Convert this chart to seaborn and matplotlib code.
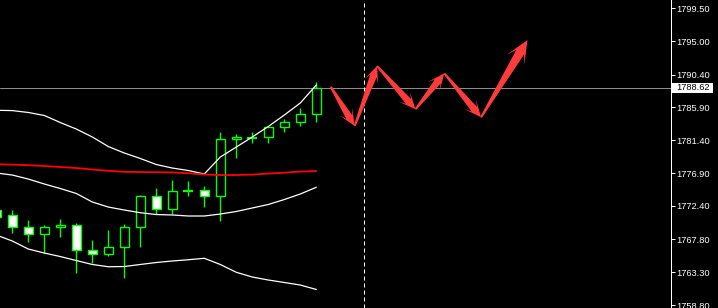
import numpy as np
import matplotlib
matplotlib.use("Agg")
import matplotlib.pyplot as plt
import seaborn as sns
from matplotlib.patches import Polygon, Rectangle
from matplotlib.transforms import IdentityTransform

# ---------------- data ----------------
bar_index = list(range(21))
opens = [1771.83, 1771.10, 1769.46, 1768.50, 1769.46, 1769.73, 1766.30, 1765.76, 1766.72, 1769.46,
         1773.71, 1771.93, 1774.48, 1774.53, 1773.71, 1781.53, 1781.75, 1781.80, 1783.18, 1783.86, 1784.96]
highs = [1772.30, 1771.83, 1770.46, 1769.73, 1770.60, 1770.01, 1767.72, 1769.09, 1769.91, 1773.89,
         1774.85, 1775.95, 1775.81, 1775.12, 1782.53, 1782.26, 1782.53, 1783.18, 1784.27, 1785.82, 1789.35]
lows = [1770.40, 1768.64, 1767.48, 1765.97, 1768.09, 1763.23, 1764.52, 1765.52, 1762.55, 1766.80,
        1771.28, 1771.28, 1773.79, 1772.28, 1770.36, 1779.01, 1781.06, 1781.06, 1782.49, 1783.40, 1783.94]
closes = [1770.91, 1769.46, 1768.50, 1769.46, 1769.73, 1766.30, 1765.76, 1766.72, 1769.46, 1773.75,
          1771.93, 1774.40, 1774.48, 1773.71, 1781.53, 1781.80, 1781.75, 1783.18, 1783.86, 1784.96, 1788.62]

upper_band = [1785.51, 1785.47, 1785.21, 1784.80, 1783.83, 1782.94, 1781.85, 1780.54, 1779.65, 1778.90,
              1778.07, 1777.59, 1777.25, 1776.77, 1779.10, 1780.47, 1781.85, 1783.29, 1784.86, 1786.51, 1788.98]
middle_line = [1778.11, 1778.06, 1777.98, 1777.87, 1777.73, 1777.59, 1777.39, 1777.21, 1777.07, 1777.04,
               1777.02, 1776.99, 1776.88, 1776.70, 1776.63, 1776.63, 1776.69, 1776.83, 1776.95, 1777.11, 1777.18]
inner_lower = [1776.91, 1776.63, 1776.08, 1775.40, 1774.78, 1774.10, 1772.93, 1772.24, 1771.83, 1771.46,
               1771.21, 1771.15, 1771.01, 1771.01, 1771.28, 1771.63, 1772.11, 1772.59, 1773.27, 1774.03, 1774.95]
lower_band = [1768.40, 1767.58, 1766.48, 1765.93, 1765.45, 1764.90, 1764.36, 1764.05, 1764.08, 1764.36,
              1764.63, 1764.84, 1765.01, 1765.21, 1764.36, 1763.29, 1762.64, 1762.23, 1761.89, 1761.54, 1760.93]

current_price = 1788.62
shift_bar = 23

arrow_x = [20.9, 22.4, 23.8, 26.2, 28.0, 30.3, 33.2]
arrow_y = [1788.75, 1783.36, 1791.58, 1785.65, 1790.58, 1784.55, 1795.15]

tick_values = [1799.50, 1795.00, 1790.40, 1785.90, 1781.40, 1776.90, 1772.40, 1767.80, 1763.30, 1758.80]
tick_labels = ["1799.50", "1795.00", "1790.40", "1785.90", "1781.40",
               "1776.90", "1772.40", "1767.80", "1763.30", "1758.80"]

# ---------------- style ----------------
sns.set_style("dark", rc={"axes.facecolor": "black", "figure.facecolor": "black"})
plt.rcParams["font.family"] = ["Liberation Sans", "DejaVu Sans"]

W, H = 718, 308
fig = plt.figure(figsize=(W / 100, H / 100), dpi=100)
fig.patch.set_facecolor("black")
ax = fig.add_axes([0, 0, 671 / W, 1])
ax.set_facecolor("black")
ax.set_xlim(0.231, 42.169)
ax.set_ylim(1758.39, 1800.64)
ax.grid(False)

GREEN = "#00ff00"
PX = 0.72  # one pixel in points

# current price line and shift line
ax.axhline(current_price, color="#8c8c8c", lw=PX, zorder=1)
ax.axvline(shift_bar, color="white", lw=PX, dashes=(4, 3), zorder=1)

# candles
for i, o, h, l, c in zip(bar_index, opens, highs, lows, closes):
    ax.vlines(i, l, h, color=GREEN, lw=1.0, zorder=2)
    if abs(c - o) < 1e-9:
        ax.hlines(o, i - 0.31, i + 0.31, color=GREEN, lw=1.6, zorder=3)
    else:
        face = "white" if c < o else "black"
        ax.bar(i, abs(c - o), bottom=min(o, c), width=0.56, color=face,
               edgecolor=GREEN, linewidth=1.0, zorder=3)

# indicator lines
sns.lineplot(x=bar_index, y=upper_band, ax=ax, color="white", linewidth=0.9, zorder=4)
sns.lineplot(x=bar_index, y=middle_line, ax=ax, color="#ff0000", linewidth=1.3, zorder=4)
sns.lineplot(x=bar_index, y=inner_lower, ax=ax, color="white", linewidth=0.9, zorder=4)
sns.lineplot(x=bar_index, y=lower_band, ax=ax, color="white", linewidth=0.9, zorder=4)


def arrow_poly(p0, p1, hl, hw, ws):
    p0, p1 = np.asarray(p0, float), np.asarray(p1, float)
    d = p1 - p0
    u = d / np.hypot(*d)
    n = np.array([-u[1], u[0]])
    base = p1 - u * hl
    neck = p1 - u * hl * 0.62
    return [p0 + n * 1.0, neck + n * ws / 2, base + n * hw / 2, p1,
            base - n * hw / 2, neck - n * ws / 2, p0 - n * 1.0]


pts = ax.transData.transform(np.column_stack([arrow_x, arrow_y]))
nseg = len(pts) - 1
for k in range(nseg):
    big = (k == nseg - 1)
    hl, hw, ws = (23, 20, 9) if big else (17, 15, 7)
    poly = Polygon(arrow_poly(pts[k], pts[k + 1], hl, hw, ws), closed=True,
                   facecolor="#ff3b3b", edgecolor="none", transform=IdentityTransform(), zorder=6)
    fig.add_artist(poly)

# right axis
for s in ["top", "left", "bottom"]:
    ax.spines[s].set_visible(False)
ax.spines["right"].set_visible(True)
ax.spines["right"].set_color("white")
ax.spines["right"].set_linewidth(PX)
ax.set_xticks([])
ax.yaxis.tick_right()
ax.set_yticks(tick_values, labels=tick_labels)
ax.tick_params(axis="y", colors="white", length=2.6, width=PX, pad=1.5, labelsize=6.7,
               labelcolor="white")

# price label box
ypx = ax.transData.transform((0, current_price))[1]
fig.add_artist(Rectangle((672, ypx - 5), 41, 10, facecolor="white", edgecolor="none",
                         transform=IdentityTransform(), zorder=7))
fig.text(676.5, ypx, f"{current_price:.2f}", transform=IdentityTransform(), color="black",
         fontsize=6.7, ha="left", va="center", zorder=8)

fig.savefig("out.png", dpi=100, facecolor="black")
